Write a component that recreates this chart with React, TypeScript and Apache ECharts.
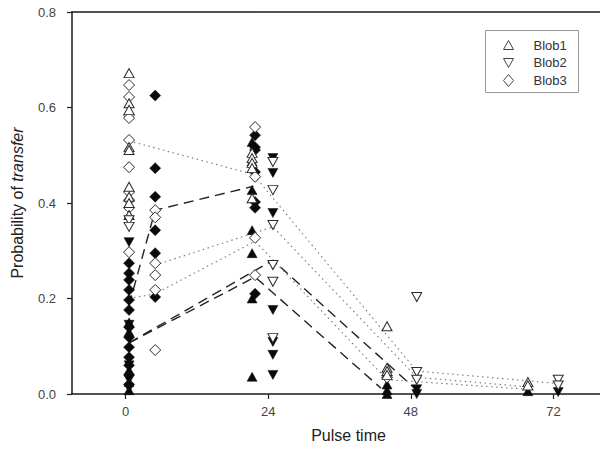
import React, { useEffect, useRef } from "react";
import * as echarts from "echarts";

// x positions (hours) of each blob's columns, as plotted
const blob1Times = [0.6, 21.3, 44.0, 67.7];
const blob2Times = [0.6, 24.8, 49.0, 72.8];
const blob3Times = [0.6, 5.0, 21.8, 44.0];

// Blob1 (triangle up)
const blob1Open = [
  [0.672, 0.609, 0.595, 0.517, 0.511, 0.434, 0.413, 0.4, 0.375],
  [0.505, 0.494, 0.484, 0.473, 0.41],
  [0.142, 0.055, 0.048, 0.04],
  [0.025, 0.018],
];
const blob1Filled = [
  [0.15, 0.13, 0.05, 0.025, 0.008],
  [0.528, 0.487, 0.427, 0.343, 0.295, 0.2, 0.036],
  [0.02, 0.008, 0.0],
  [0.006],
];
// Blob2 (triangle down)
const blob2Open = [
  [0.364, 0.35],
  [0.486, 0.427, 0.354, 0.27, 0.235, 0.117],
  [0.203, 0.046, 0.03],
  [0.03, 0.018],
];
const blob2Filled = [
  [0.318, 0.145, 0.06, 0.03, 0.012],
  [0.494, 0.463, 0.379, 0.176, 0.109, 0.082, 0.04],
  [0.01, 0.0],
  [0.004],
];
// Blob3 (diamond)
const blob3Open = [
  [0.647, 0.622, 0.584, 0.578, 0.532, 0.475, 0.423, 0.406, 0.39, 0.297],
  [0.385, 0.37, 0.274, 0.249, 0.218, 0.092],
  [0.559, 0.455, 0.327, 0.249],
  [0.035],
];
const blob3Filled = [
  [0.274, 0.253, 0.239, 0.218, 0.197, 0.176, 0.14, 0.119, 0.098, 0.077, 0.06, 0.04, 0.02],
  [0.625, 0.473, 0.413, 0.343, 0.295, 0.203],
  [0.542, 0.517, 0.511, 0.465, 0.402, 0.39, 0.21],
  [],
];

// mean lines
const dashedA = [[0.6, 0.107], [24.8, 0.28], [49.0, 0.008]];
const dashedB = [[0.6, 0.107], [21.8, 0.245], [43.0, 0.012]];
const dashedC = [[0.6, 0.186], [5.0, 0.385], [21.5, 0.435]];
const dottedA = [[0.6, 0.53], [21.5, 0.46], [49.0, 0.048], [72.8, 0.022]];
const dottedB = [[5.0, 0.27], [24.8, 0.35], [49.0, 0.035], [67.7, 0.015]];
const dottedC = [[0.6, 0.2], [5.0, 0.21], [21.8, 0.32], [44.0, 0.03], [67.7, 0.01]];

const xTicks = [0, 24, 48, 72];
const X_MIN = -9;
const X_MAX = 80;
const legendNames = ["Blob1", "Blob2", "Blob3"];

const FONT = "Liberation Sans, Arial, Helvetica, sans-serif";

function toPoints(times: number[], groups: number[][]) {
  const pts: number[][] = [];
  groups.forEach((g, i) => g.forEach((v) => pts.push([times[i], v])));
  return pts;
}

export default function App() {
  const ref = useRef<HTMLDivElement>(null);
  useEffect(() => {
    if (!ref.current) return;
    const chart = echarts.init(ref.current, null, { renderer: "svg" });

    const openStyle = { color: "#fff", borderColor: "#2a2a2a", borderWidth: 1, opacity: 1 };
    const filledStyle = { color: "#0a0a0a", borderColor: "#0a0a0a", borderWidth: 0.5, opacity: 1 };
    const triUp = "triangle";
    const axisLineStyle = { color: "#1a1a1a", width: 1.5 };
    const scatter = (name: string, data: number[][], symbol: string, size: any, rotate: number, style: any, z: number) => ({
      name,
      type: "scatter",
      data,
      symbol,
      symbolSize: size,
      symbolRotate: rotate,
      itemStyle: style,
      z,
      clip: false,
      silent: true,
    });
    const line = (data: number[][], dashed: boolean) => ({
      type: "line",
      data,
      symbol: "none",
      silent: true,
      clip: false,
      lineStyle: dashed
        ? { color: "#222", width: 1.4, type: [10, 6] }
        : { color: "#808080", width: 1.2, type: [1.5, 3.5] },
    });

    const option: any = {
      animation: false,
      grid: {
        left: 72,
        right: -1,
        top: 12,
        bottom: 56,
        outerBoundsMode: "none",
      },
      xAxis: [
        {
          type: "value",
          min: X_MIN,
          max: X_MAX,
          name: "Pulse time",
          nameLocation: "middle",
          nameGap: 33,
          nameTextStyle: { fontSize: 16, color: "#222", fontFamily: FONT, padding: [0, 0, 0, 24] },
          axisLine: { show: true, onZero: false, lineStyle: axisLineStyle },
          axisTick: { show: true, customValues: xTicks, length: 5, lineStyle: { color: "#222", width: 1.2 } },
          axisLabel: { customValues: xTicks, fontSize: 13, color: "#444", margin: 11, fontFamily: FONT },
          splitLine: { show: false },
        },
        {
          type: "value",
          position: "top",
          min: X_MIN,
          max: X_MAX,
          axisLine: { show: true, onZero: false, lineStyle: axisLineStyle },
          axisTick: { show: false },
          axisLabel: { show: false },
          splitLine: { show: false },
        },
      ],
      yAxis: {
        type: "value",
        min: 0,
        max: 0.8,
        interval: 0.2,
        name: "{a|Probability of }{b|transfer}",
        nameLocation: "middle",
        nameGap: 47,
        nameTextStyle: {
          fontSize: 16,
          color: "#222",
          fontFamily: FONT,
          rich: {
            a: { fontSize: 16, color: "#222", fontFamily: FONT },
            b: { fontSize: 16, color: "#222", fontFamily: FONT, fontStyle: "italic" },
          },
        },
        axisLine: { show: true, onZero: false, lineStyle: axisLineStyle },
        axisTick: { show: true, length: 5, lineStyle: { color: "#222", width: 1.2 } },
        axisLabel: {
          fontSize: 13,
          color: "#444",
          margin: 16,
          fontFamily: FONT,
          formatter: (v: number) => v.toFixed(1),
        },
        splitLine: { show: false },
      },
      series: [
        line(dashedA, true),
        line(dashedB, true),
        line(dashedC, true),
        line(dottedA, false),
        line(dottedB, false),
        line(dottedC, false),
        scatter("Blob1 filled", toPoints(blob1Times, blob1Filled), triUp, [10, 9], 0, filledStyle, 3),
        scatter("Blob2 filled", toPoints(blob2Times, blob2Filled), triUp, [10, 9], 180, filledStyle, 3),
        scatter("Blob3 filled", toPoints(blob3Times, blob3Filled), "diamond", [11, 11], 0, filledStyle, 3),
        scatter("Blob3", toPoints(blob3Times, blob3Open), "diamond", [11, 11], 0, openStyle, 4),
        scatter("Blob1", toPoints(blob1Times, blob1Open), triUp, [10, 9], 0, openStyle, 5),
        scatter("Blob2", toPoints(blob2Times, blob2Open), triUp, [10, 9], 180, openStyle, 5),
      ],
      graphic: [
        {
          type: "group",
          left: 485,
          top: 30,
          z: 50,
          children: [
            { type: "rect", shape: { x: 0, y: 0, width: 93, height: 62 }, style: { fill: "#fff", stroke: "#999", lineWidth: 1 } },
            { type: "polygon", shape: { points: [[18, 19], [28, 19], [23, 10]] }, style: { fill: "#fff", stroke: "#444", lineWidth: 1 } },
            { type: "polygon", shape: { points: [[18, 28], [28, 28], [23, 37]] }, style: { fill: "#fff", stroke: "#444", lineWidth: 1 } },
            { type: "polygon", shape: { points: [[23, 44], [28, 50], [23, 56], [18, 50]] }, style: { fill: "#fff", stroke: "#444", lineWidth: 1 } },
            { type: "text", x: 48, y: 15, style: { text: legendNames[0], fontSize: 13, fill: "#333", fontFamily: FONT, verticalAlign: "middle" } },
            { type: "text", x: 48, y: 32, style: { text: legendNames[1], fontSize: 13, fill: "#333", fontFamily: FONT, verticalAlign: "middle" } },
            { type: "text", x: 48, y: 50, style: { text: legendNames[2], fontSize: 13, fill: "#333", fontFamily: FONT, verticalAlign: "middle" } },
          ],
        },
      ],
    };
    chart.setOption(option);
    return () => chart.dispose();
  }, []);
  return <div ref={ref} style={{ width: 600, height: 450, position: "absolute", left: 0, top: 0 }} />;
}
